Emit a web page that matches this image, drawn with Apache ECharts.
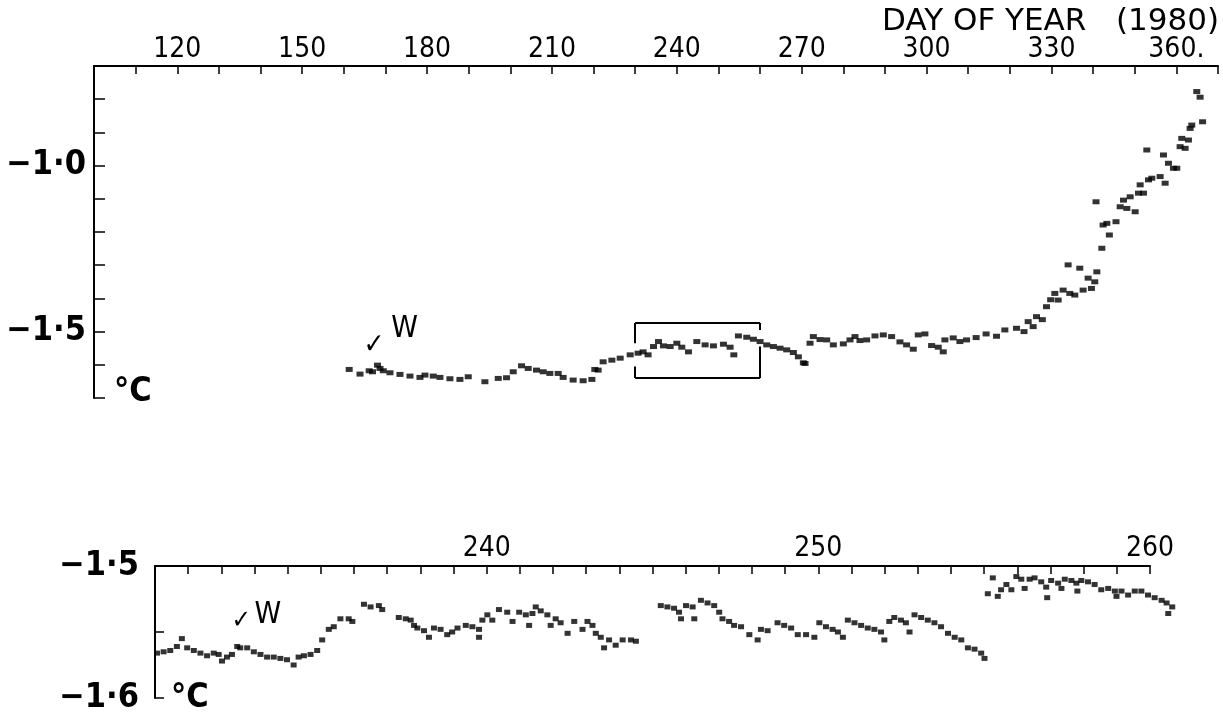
<!DOCTYPE html>
<html>
<head>
<meta charset="utf-8">
<script src="https://cdn.jsdelivr.net/npm/echarts@6/dist/echarts.min.js"></script>
<style>
html,body{margin:0;padding:0;background:#fff;}
#chart{width:1223px;height:715px;}
</style>
</head>
<body>
<div id="chart"></div>
<script>
// ---- Top panel: whole record (day of year 1980 vs temperature, °C)
const topDays = [161.3,163.9,166.1,166.9,168.1,168.7,169.5,171.1,173.5,175.9,178.3,179.5,181.5,183.1,185.5,187.9,189.9,193.9,197.1,199.1,
  200.7,202.7,204.3,206.3,207.9,209.5,211.5,212.7,215.1,217.5,219.6,220.3,221.1,222.3,224.4,226.4,228.8,230.7,231.9,233.1,
  234.4,235.6,236.8,238.4,240.0,241.2,242.8,244.8,246.8,248.8,251.2,252.8,253.7,254.8,256.8,258.4,260.0,261.6,263.2,264.8,
  266.4,268.0,269.2,270.4,270.8,272.0,272.8,274.4,276.0,277.6,280.0,281.6,282.8,284.0,285.6,287.6,289.6,291.6,293.6,295.2,
  296.8,298.0,299.6,301.2,302.8,304.0,304.4,306.4,308.0,309.6,311.9,314.3,316.8,318.8,321.6,323.4,324.4,325.6,326.4,327.8,
  328.8,329.8,330.8,331.6,332.8,334.0,334.4,335.6,336.8,337.6,338.8,339.6,340.4,340.9,340.7,342.1,342.4,343.3,343.9,345.5,
  346.5,347.3,348.1,348.9,350.1,350.9,351.3,352.1,352.9,353.3,354.1,356.1,356.9,357.3,358.1,359.3,360.1,360.9,361.3,362.1,
  362.9,363.3,363.7,364.9,365.7,366.3];
const topTemps = [-1.614,-1.628,-1.618,-1.621,-1.601,-1.611,-1.618,-1.624,-1.629,-1.634,-1.638,-1.631,-1.634,-1.638,-1.642,-1.644,-1.636,-1.651,-1.641,-1.639,
  -1.621,-1.603,-1.611,-1.616,-1.621,-1.626,-1.626,-1.638,-1.646,-1.648,-1.644,-1.614,-1.616,-1.591,-1.586,-1.580,-1.570,-1.565,-1.561,-1.570,
  -1.545,-1.530,-1.543,-1.545,-1.535,-1.547,-1.561,-1.530,-1.540,-1.543,-1.538,-1.547,-1.570,-1.513,-1.517,-1.523,-1.530,-1.540,-1.545,-1.550,
  -1.555,-1.563,-1.576,-1.594,-1.596,-1.535,-1.515,-1.524,-1.525,-1.540,-1.537,-1.525,-1.515,-1.527,-1.525,-1.513,-1.510,-1.515,-1.531,-1.540,
  -1.553,-1.510,-1.507,-1.542,-1.547,-1.561,-1.525,-1.519,-1.530,-1.525,-1.518,-1.507,-1.514,-1.495,-1.490,-1.500,-1.470,-1.485,-1.455,-1.464,
  -1.425,-1.404,-1.385,-1.405,-1.375,-1.299,-1.385,-1.390,-1.309,-1.375,-1.339,-1.370,-1.350,-1.320,-1.109,-1.249,-1.179,-1.174,-1.209,-1.169,
  -1.124,-1.104,-1.129,-1.094,-1.139,-1.083,-1.058,-1.083,-0.953,-1.043,-1.038,-1.033,-0.968,-1.053,-0.993,-1.008,-1.008,-0.943,-0.918,-0.948,
  -0.923,-0.888,-0.878,-0.777,-0.794,-0.868];

// ---- Bottom panel: expanded detail of days 230-260
const detailDays = [230.06,230.26,230.46,230.66,230.81,230.97,231.17,231.37,231.57,231.77,231.92,232.02,232.17,232.32,232.48,232.57,232.78,232.98,233.18,233.38,
  233.58,233.78,233.98,234.18,234.33,234.49,234.69,234.89,235.04,235.24,235.39,235.59,235.84,235.95,236.30,236.50,236.75,236.85,237.35,237.56,
  237.71,237.81,237.91,238.11,238.26,238.41,238.61,238.81,238.96,239.12,239.37,239.57,239.77,239.77,239.87,240.02,240.17,240.37,240.62,240.78,
  240.98,241.18,241.28,241.38,241.48,241.63,241.83,241.93,242.08,242.23,242.44,242.64,242.89,243.04,243.19,243.29,243.44,243.54,243.69,243.89,
  244.10,244.35,244.50,245.25,245.45,245.65,245.80,245.86,246.01,246.21,246.26,246.46,246.66,246.86,247.01,247.11,247.31,247.46,247.67,247.92,
  248.17,248.27,248.47,248.77,248.97,249.18,249.38,249.63,249.88,250.03,250.23,250.43,250.59,250.74,250.89,251.09,251.29,251.49,251.69,251.89,
  251.99,252.14,252.29,252.49,252.64,252.75,252.90,253.10,253.30,253.50,253.70,253.91,254.11,254.31,254.51,254.71,254.91,255.01,255.11,255.26,
  255.41,255.51,255.67,255.82,255.97,256.12,256.22,256.37,256.52,256.72,256.87,256.90,257.02,257.23,257.33,257.43,257.63,257.78,257.81,257.93,
  258.13,258.33,258.53,258.74,258.94,258.99,259.14,259.34,259.54,259.74,259.94,260.14,260.35,260.50,260.55,260.67];
const detailTemps = [-1.566,-1.565,-1.564,-1.561,-1.555,-1.562,-1.564,-1.566,-1.568,-1.566,-1.567,-1.572,-1.569,-1.567,-1.561,-1.562,-1.562,-1.565,-1.567,-1.569,
  -1.569,-1.570,-1.571,-1.575,-1.569,-1.568,-1.567,-1.564,-1.556,-1.548,-1.546,-1.540,-1.540,-1.542,-1.529,-1.531,-1.530,-1.533,-1.539,-1.540,
  -1.541,-1.545,-1.547,-1.549,-1.554,-1.547,-1.548,-1.552,-1.550,-1.547,-1.545,-1.546,-1.548,-1.554,-1.541,-1.537,-1.541,-1.533,-1.535,-1.542,
  -1.535,-1.537,-1.545,-1.536,-1.531,-1.534,-1.537,-1.545,-1.540,-1.543,-1.551,-1.542,-1.548,-1.542,-1.545,-1.551,-1.554,-1.562,-1.556,-1.560,
  -1.556,-1.556,-1.557,-1.530,-1.531,-1.532,-1.535,-1.540,-1.530,-1.531,-1.540,-1.526,-1.528,-1.530,-1.535,-1.540,-1.542,-1.545,-1.546,-1.552,
  -1.556,-1.548,-1.549,-1.543,-1.545,-1.547,-1.552,-1.552,-1.554,-1.543,-1.546,-1.548,-1.550,-1.554,-1.541,-1.543,-1.545,-1.547,-1.548,-1.550,
  -1.556,-1.542,-1.539,-1.541,-1.543,-1.550,-1.537,-1.539,-1.541,-1.543,-1.546,-1.551,-1.554,-1.556,-1.562,-1.563,-1.566,-1.570,-1.521,-1.509,
  -1.523,-1.518,-1.514,-1.518,-1.508,-1.510,-1.517,-1.510,-1.509,-1.512,-1.516,-1.524,-1.511,-1.513,-1.517,-1.510,-1.511,-1.513,-1.519,-1.511,
  -1.512,-1.514,-1.518,-1.517,-1.519,-1.523,-1.519,-1.522,-1.519,-1.519,-1.522,-1.524,-1.526,-1.528,-1.536,-1.531];

// ---- Axis labels and texts
const topTickLabels = {120:'120',150:'150',180:'180',210:'210',240:'240',270:'270',300:'300',330:'330',360:'360.'};
const topYLabels = {'-1.0':'−1·0','-1.5':'−1·5'};
const detailTickLabels = {240:'240',250:'250',260:'260'};
const detailYLabels = {'-1.50':'−1·5','-1.60':'−1·6'};
const xTitle = 'DAY OF YEAR   (1980)';
const unitLabel = '°C';
const windowBox = {x0:230, x1:260, y0:-1.64, y1:-1.474};

const FONT = '"DejaVu Sans Condensed", "Liberation Sans Narrow", "DejaVu Sans", sans-serif';
const topData = topDays.map((d,i)=>[d, topTemps[i]]);
const detailData = detailDays.map((d,i)=>[d, detailTemps[i]]);

const axLine = {show:true, lineStyle:{color:'#000', width:2}};
const chart = echarts.init(document.getElementById('chart'));
const B = windowBox;
const seg = (a,b)=>[{coord:a},{coord:b}];
const note = (c, t, fs) => ({coord:c, label:{show:true, formatter:t, fontSize:fs, color:'#000', fontFamily:FONT}});
chart.setOption({
  backgroundColor:'#fff',
  animation:false,
  grid:[
    {left:94, right:5, top:66, height:332},
    {left:155, right:73, top:566, height:132}
  ],
  xAxis:[
    {gridIndex:0, type:'value', position:'top', min:100, max:370, interval:10,
     axisLine:axLine, splitLine:{show:false},
     axisTick:{show:true, inside:true, length:8, lineStyle:{color:'#000', width:1.5}},
     axisLabel:{show:true, margin:2, fontFamily:FONT, fontSize:28, color:'#000',
       formatter:v=>topTickLabels[Math.round(v)]||''}},
    {gridIndex:1, type:'value', position:'top', min:230, max:260, interval:1,
     axisLine:axLine, splitLine:{show:false},
     axisTick:{show:true, inside:true, length:8, lineStyle:{color:'#000', width:1.5}},
     axisLabel:{show:true, margin:3, fontFamily:FONT, fontSize:28, color:'#000',
       formatter:v=>detailTickLabels[Math.round(v)]||''}}
  ],
  yAxis:[
    {gridIndex:0, type:'value', min:-1.7, max:-0.7, interval:0.1,
     axisLine:axLine, splitLine:{show:false},
     axisTick:{show:true, inside:true, length:11, lineStyle:{color:'#000', width:1.5}},
     axisLabel:{show:true, margin:8, fontFamily:FONT, fontSize:34, fontWeight:'bold', color:'#000',
       formatter:v=>topYLabels[(Math.round(v*10)/10).toFixed(1)]||''}},
    {gridIndex:1, type:'value', min:-1.6, max:-1.5, interval:0.05,
     axisLine:axLine, splitLine:{show:false},
     axisTick:{show:true, inside:true, length:9, lineStyle:{color:'#000', width:1.5}},
     axisLabel:{show:true, margin:16, fontFamily:FONT, fontSize:34, fontWeight:'bold', color:'#000',
       formatter:v=>detailYLabels[(Math.round(v*100)/100).toFixed(2)]||''}}
  ],
  graphic:[
    {type:'text', right:4, top:6, style:{text:xTitle, font:'31px "DejaVu Sans", sans-serif', fill:'#000'}},
    {type:'text', left:114, top:375, style:{text:unitLabel, font:'bold 34px '+FONT, fill:'#000'}},
    {type:'text', left:171, top:681, style:{text:unitLabel, font:'bold 34px '+FONT, fill:'#000'}}
  ],
  series:[
    {type:'scatter', xAxisIndex:0, yAxisIndex:0, data:topData, symbol:'rect', symbolSize:[7,5],
     itemStyle:{color:'#000'}, silent:true,
     markLine:{silent:true, symbol:'none', label:{show:false}, lineStyle:{color:'#000', width:2, type:'solid'},
       data:[
         seg([B.x0,B.y1],[B.x1,B.y1]),
         seg([B.x0,B.y0],[B.x1,B.y0]),
         seg([B.x0,B.y1],[B.x0,-1.535]),
         seg([B.x0,-1.605],[B.x0,B.y0]),
         seg([B.x1,B.y1],[B.x1,-1.495]),
         seg([B.x1,-1.545],[B.x1,B.y0])
       ]},
     markPoint:{silent:true, symbolSize:0,
       data:[note([167.3,-1.543],'✓',28), note([174.6,-1.494],'W',30)]}},
    {type:'scatter', xAxisIndex:1, yAxisIndex:1, data:detailData, symbol:'rect', symbolSize:[6,5],
     clip:false, itemStyle:{color:'#000'}, silent:true,
     markPoint:{silent:true, symbolSize:0,
       data:[note([232.6,-1.542],'✓',26), note([233.4,-1.537],'W',30)]}}
  ]
});
</script>
</body>
</html>
